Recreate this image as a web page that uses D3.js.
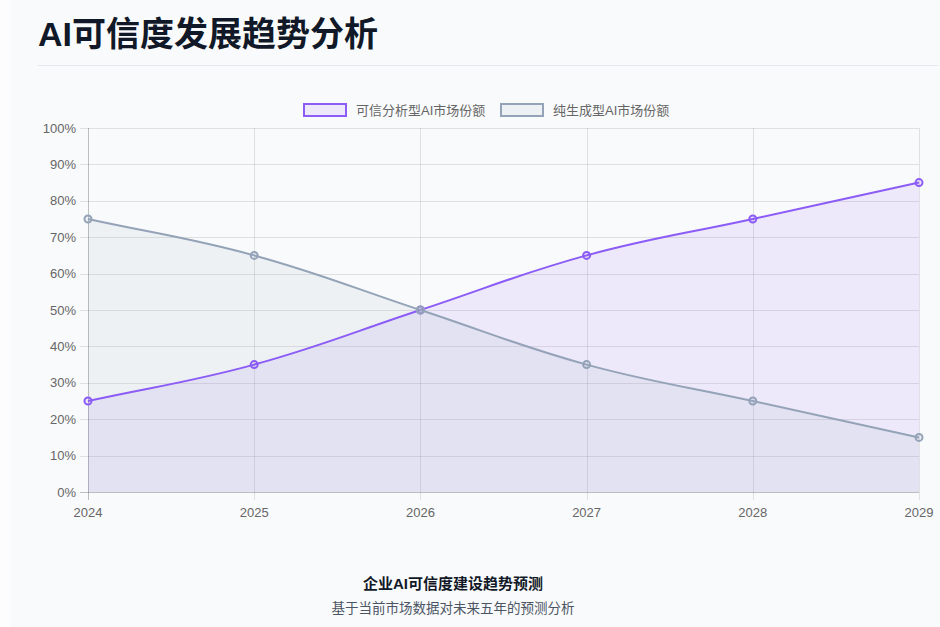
<!DOCTYPE html>
<html><head><meta charset="utf-8">
<script src="https://cdn.jsdelivr.net/npm/d3@7"></script>
<style>
html,body{margin:0;padding:0;background:#fdfdfe;}
body{width:940px;height:627px;overflow:hidden;font-family:"Noto Sans CJK SC","Noto Sans",sans-serif;}
#card{position:absolute;left:10px;top:0;width:930px;height:627px;background:#f9fafb;}
svg{position:absolute;left:0;top:0;}
</style></head><body>
<div id="card"></div>
<svg id="chart" width="940" height="627"></svg>
<script>
const years = ["2024","2025","2026","2027","2028","2029"];
const trustedShare = [25, 35, 50, 65, 75, 85];
const generativeShare = [75, 65, 50, 35, 25, 15];
const seriesNames = ["可信分析型AI市场份额", "纯生成型AI市场份额"];
const yTicks = [0,10,20,30,40,50,60,70,80,90,100];
const titleText = "AI可信度发展趋势分析";
const footTitle = "企业AI可信度建设趋势预测";
const footSub = "基于当前市场数据对未来五年的预测分析";

(function(){
const svg = d3.select("#chart");
const font = '"Liberation Sans","Noto Sans CJK SC",sans-serif';
const latin = '"Liberation Sans",Arial,"Noto Sans CJK SC",sans-serif';

svg.append("text").attr("x",38).attr("y",46).attr("font-family",font).attr("font-weight",700)
  .attr("font-size",34).attr("fill","#111827").text(titleText);
svg.append("line").attr("x1",38).attr("x2",938).attr("y1",65.5).attr("y2",65.5)
  .attr("stroke","#e5e7eb").attr("stroke-width",1);

const pL = 88, pR = 919, pT = 128, pB = 492;
const x = d3.scalePoint().domain(years).range([pL,pR]);
const y = d3.scaleLinear().domain([0,100]).range([pB,pT]);

const grid = svg.append("g");
grid.selectAll("line.h").data(yTicks).join("line")
  .attr("x1",pL-8).attr("x2",pR).attr("y1",d=>Math.round(y(d))+0.5).attr("y2",d=>Math.round(y(d))+0.5)
  .attr("stroke","rgba(0,0,0,0.1)");
grid.selectAll("line.v").data(years).join("line")
  .attr("x1",d=>Math.round(x(d))+0.5).attr("x2",d=>Math.round(x(d))+0.5).attr("y1",pT).attr("y2",pB+8)
  .attr("stroke","rgba(0,0,0,0.1)");

function spline(vals, tension){
  const pts = vals.map((v,i)=>[x(years[i]), y(v)]);
  const cps = pts.map((p,i)=>{
    const prev = pts[i-1]||p, next = pts[i+1]||p;
    const d01 = Math.hypot(p[0]-prev[0],p[1]-prev[1]);
    const d12 = Math.hypot(next[0]-p[0],next[1]-p[1]);
    let s01 = d01/(d01+d12), s12 = d12/(d01+d12);
    if(isNaN(s01)) s01=0; if(isNaN(s12)) s12=0;
    const fa = tension*s01, fb = tension*s12;
    const cp = [[p[0]-fa*(next[0]-prev[0]), p[1]-fa*(next[1]-prev[1])],
                [p[0]+fb*(next[0]-prev[0]), p[1]+fb*(next[1]-prev[1])]];
    cp.forEach(c=>{c[0]=Math.max(pL,Math.min(pR,c[0]));c[1]=Math.max(pT,Math.min(pB,c[1]));});
    return cp;
  });
  let d = `M${pts[0][0]},${pts[0][1]}`;
  for(let i=1;i<pts.length;i++){
    const a = cps[i-1][1], b = cps[i][0];
    d += `C${a[0]},${a[1]},${b[0]},${b[1]},${pts[i][0]},${pts[i][1]}`;
  }
  return {d, pts};
}

const series = [
  {vals: trustedShare, stroke:"#8b5cf6", fill:"rgba(139,92,246,0.1)"},
  {vals: generativeShare, stroke:"#94a3b8", fill:"rgba(148,163,184,0.1)"}
];
const geo = series.map(s=>spline(s.vals,0.4));
series.forEach((s,i)=>{
  svg.append("path").attr("d", geo[i].d + `L${pR},${y(0)}L${pL},${y(0)}Z`).attr("fill",s.fill);
});
svg.append("line").attr("x1",pL+0.5).attr("x2",pL+0.5).attr("y1",pT).attr("y2",pB+8).attr("stroke","rgba(0,0,0,0.15)");
svg.append("line").attr("x1",pL-8).attr("x2",pR).attr("y1",pB+0.5).attr("y2",pB+0.5).attr("stroke","rgba(0,0,0,0.15)");
series.forEach((s,i)=>{
  svg.append("path").attr("d",geo[i].d).attr("fill","none").attr("stroke",s.stroke).attr("stroke-width",2);
  svg.selectAll(null).data(s.vals).join("circle")
    .attr("cx",(d,j)=>x(years[j])).attr("cy",d=>y(d)).attr("r",3.5)
    .attr("fill",s.fill).attr("stroke",s.stroke).attr("stroke-width",2);
});

svg.selectAll("text.yl").data(yTicks).join("text")
  .attr("x",76).attr("y",d=>y(d)+4.5).attr("text-anchor","end")
  .attr("font-family",latin).attr("font-size",13).attr("fill","#666").text(d=>d+"%");
svg.selectAll("text.xl").data(years).join("text")
  .attr("x",d=>x(d)).attr("y",517).attr("text-anchor","middle")
  .attr("font-family",latin).attr("font-size",13).attr("fill","#666").text(d=>d);

const legendItems = [{x:303, s:series[0], name:seriesNames[0]},{x:500, s:series[1], name:seriesNames[1]}];
legendItems.forEach(it=>{
  svg.append("rect").attr("x",it.x+1).attr("y",104).attr("width",42).attr("height",12)
    .attr("fill",it.s.fill).attr("stroke",it.s.stroke).attr("stroke-width",2);
  svg.append("text").attr("x",it.x+53).attr("y",115).attr("font-family",font).attr("font-size",13)
    .attr("fill","#666").text(it.name);
});

svg.append("text").attr("x",453).attr("y",589).attr("text-anchor","middle").attr("font-family",font)
  .attr("font-weight",700).attr("font-size",15).attr("fill","#111827").text(footTitle);
svg.append("text").attr("x",453).attr("y",613).attr("text-anchor","middle").attr("font-family",font)
  .attr("font-size",13.5).attr("fill","#4b5563").text(footSub);
})();
</script>
</body></html>
